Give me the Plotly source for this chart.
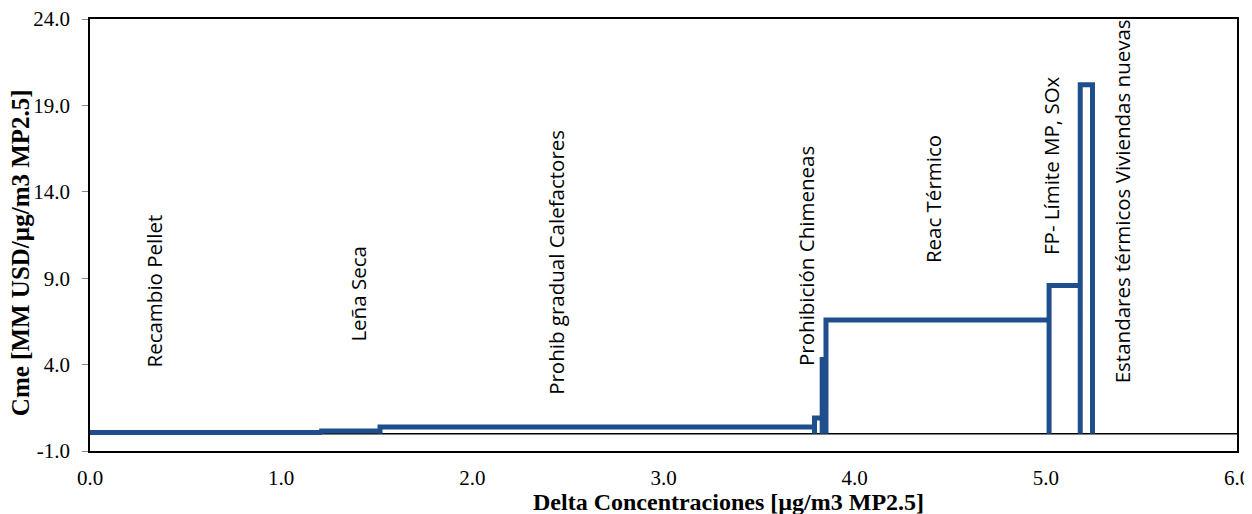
import plotly.graph_objects as go

# Data: each measure occupies a width on the x axis (delta concentration) with a height (Cme)
measures = ["Recambio Pellet", "Leña Seca", "Prohib gradual Calefactores",
            "Prohibición Chimeneas", "", "Reac Térmico",
            "FP- Límite MP, SOx", "Estandares térmicos Viviendas nuevas"]
delta = [1.212, 0.305, 2.273, 0.04, 0.02, 1.167, 0.163, 0.064]
cme = [0.07, 0.16, 0.39, 0.91, 4.3, 6.58, 8.58, 20.2]

x_ticks = [0, 1, 2, 3, 4, 5, 6]
y_ticks = [-1, 4, 9, 14, 19, 24]

# Build outline path (step curve with verticals to baseline)
xs, ys = [], []
start = 0.0
for w, h in zip(delta, cme):
    end = start + w
    xs += [start, start, end, end]
    ys += [0, h, h, 0]
    start = end

fig = go.Figure()
fig.add_trace(go.Scatter(x=xs, y=ys, mode="lines",
                         line=dict(color="#1F4E8C", width=5, shape="linear"),
                         hoverinfo="skip", showlegend=False))

# zero line
fig.add_shape(type="line", xref="x", yref="y", x0=0, x1=6, y0=0, y1=0,
              line=dict(color="black", width=1.5), layer="below")

# label positions (layout)
label_pos = [(0.335, 3.69), (1.397, 5.19), (2.44, 2.13), (3.745, 3.80),
             None, (4.41, 9.76), (5.03, 10.23), (5.40, 2.82)]
for name, pos in zip(measures, label_pos):
    if pos is None or not name:
        continue
    fig.add_annotation(x=pos[0], y=pos[1], text=name, textangle=-90,
                       showarrow=False, xanchor="center", yanchor="bottom",
                       font=dict(family="Open Sans", size=20.5, color="black"))

# axis titles as annotations (placed as in the reference)
fig.add_annotation(x=0, xref="x", xshift=-70, y=10.45, yref="y",
                   text="<b>Cme [MM USD/µg/m3 MP2.5]</b>", textangle=-90,
                   showarrow=False, xanchor="center", yanchor="middle",
                   font=dict(family="Liberation Serif", size=25, color="black"))
fig.add_annotation(x=3.34, xref="x", y=0, yref="paper", yshift=-51,
                   text="<b>Delta Concentraciones [µg/m3 MP2.5]</b>",
                   showarrow=False, xanchor="center", yanchor="middle",
                   font=dict(family="Liberation Serif", size=24, color="black"))

fig.update_layout(
    width=1244, height=506,
    margin=dict(l=82, r=15, t=11, b=63),
    paper_bgcolor="white", plot_bgcolor="white",
    xaxis=dict(range=[0, 6], tickvals=x_ticks, automargin=False,
               ticktext=[f"{v:.1f}" for v in x_ticks],
               showgrid=False, zeroline=False, showline=True, mirror=True,
               linecolor="black", linewidth=1.5, ticks="", ticklen=0,
               ticklabelstandoff=7, ticklabeloverflow="allow",
               tickfont=dict(family="Liberation Serif", size=21, color="black")),
    yaxis=dict(range=[-1, 24], tickvals=y_ticks, automargin=False,
               ticktext=[f"{v:.1f}" for v in y_ticks],
               showgrid=False, zeroline=False, showline=True, mirror=True,
               linecolor="black", linewidth=1.5, ticks="outside", ticklen=6,
               tickcolor="#888888", ticklabelstandoff=8, ticklabeloverflow="allow",
               tickfont=dict(family="Liberation Serif", size=21, color="black")),
)

fig.write_html("out.html")
